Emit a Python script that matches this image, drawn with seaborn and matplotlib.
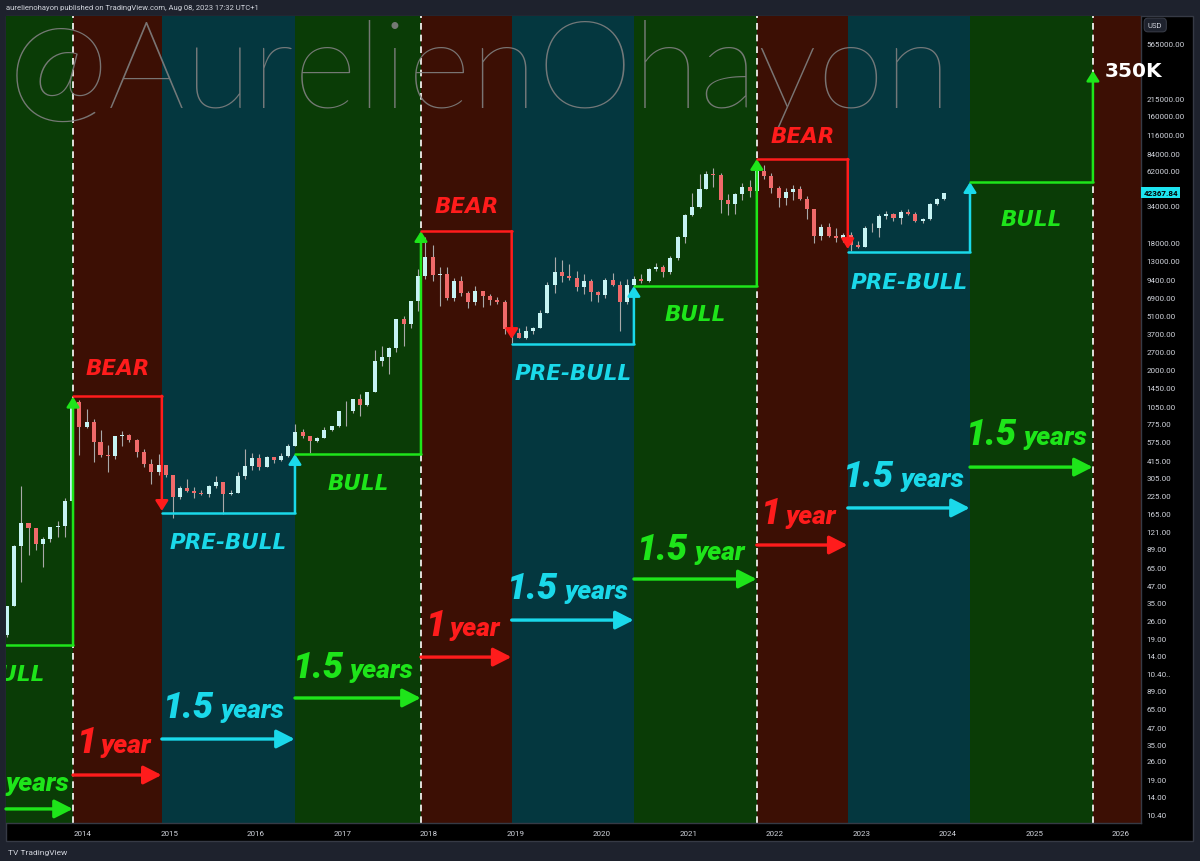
import numpy as np
import pandas as pd
import matplotlib.pyplot as plt
import matplotlib.dates as mdates
from matplotlib.patches import Rectangle
from matplotlib.transforms import blended_transform_factory
import seaborn as sns

# BTC/USD monthly candles, Feb 2013 - Dec 2023
months = pd.date_range("2013-02-01", "2023-12-01", freq="MS")
opens = [20, 33, 93, 139, 128, 97, 106, 130, 133, 205, 1130,
         730, 800, 570, 450, 445, 627, 640, 585, 480, 386, 338, 378,
         320, 217, 254, 244, 236, 230, 263, 284, 230, 236, 313, 377,
         430, 369, 437, 416, 448, 530, 673, 624, 574, 609, 700, 742,
         963, 970, 1190, 1080, 1350, 2300, 2480, 2870, 4740, 4340, 6460, 10000,
         13900, 10200, 10300, 6900, 9250, 7500, 6400, 7730, 7030, 6630, 6340, 4020,
         3740, 3450, 3850, 4100, 5320, 8570, 10800, 10080, 9600, 8300, 9150, 7550,
         7190, 9350, 8550, 6420, 8630, 9450, 9140, 11350, 11650, 10780, 13800, 19700,
         28950, 33100, 45200, 58800, 57700, 37300, 35000, 41500, 47100, 43800, 61300, 57000,
         46200, 38500, 43200, 45500, 37700, 31800, 19900, 23300, 20050, 19430, 20500, 17170,
         16550, 23140, 23150, 28480, 29250, 27220, 30480, 29230, 25940, 26970, 34650, 37720]
highs = [33, 95, 266, 140, 129, 110, 130, 145, 215, 1160, 1170,
         1000, 840, 700, 540, 630, 680, 650, 600, 500, 420, 460, 380,
         320, 265, 300, 260, 248, 268, 315, 285, 245, 335, 500, 465,
         460, 445, 440, 465, 550, 780, 705, 630, 615, 740, 750, 975,
         1150, 1200, 1300, 1350, 2790, 3000, 2920, 4750, 5000, 6470, 11400, 19700,
         17200, 11800, 11700, 9750, 9950, 7780, 8500, 7760, 7400, 7000, 6600, 4300,
         4100, 4200, 4150, 5600, 9000, 13900, 13200, 12300, 10950, 10400, 9500, 7750,
         9600, 10500, 9200, 9450, 10050, 10400, 11450, 12470, 12100, 14100, 19900, 29300,
         41950, 58350, 61800, 64850, 59500, 41300, 42400, 50500, 52900, 67000, 69000, 59100,
         47900, 45800, 48200, 47400, 40000, 31900, 24600, 25200, 22800, 20980, 21450, 18400,
         23950, 25250, 29200, 31000, 29850, 31400, 31800, 30200, 27500, 35200, 38400, 42400]
lows = [19.5, 33, 50, 80, 88, 65, 100, 110, 110, 200, 450,
        720, 400, 440, 340, 420, 530, 565, 440, 370, 275, 320, 310,
        152, 212, 240, 215, 225, 217, 254, 162, 225, 235, 300, 350,
        350, 365, 395, 410, 440, 525, 605, 470, 570, 605, 680, 740,
        750, 935, 890, 1060, 1340, 2100, 1830, 2670, 2970, 4110, 5500, 9500,
        9200, 6000, 6600, 6450, 7100, 5750, 6100, 5900, 6100, 6200, 3650, 3150,
        3400, 3370, 3700, 4080, 5300, 7450, 9100, 9400, 7700, 7300, 6500, 6430,
        6850, 8400, 3850, 6150, 8100, 8900, 8980, 10950, 9850, 10400, 13200, 17600,
        28100, 32400, 45000, 47000, 30000, 28800, 29300, 37300, 39600, 43300, 53300, 42000,
        32900, 34300, 37200, 37600, 26700, 17600, 18800, 19600, 18150, 18200, 15480, 16300,
        16500, 21400, 19550, 26950, 25800, 24800, 28850, 25300, 24900, 26550, 34100, 37600]
closes = [33, 93, 139, 128, 97, 106, 130, 133, 205, 1130, 730,
          800, 570, 450, 445, 627, 640, 585, 480, 386, 338, 378, 320,
          217, 254, 244, 236, 230, 263, 284, 230, 236, 313, 377, 430,
          369, 437, 416, 448, 530, 673, 624, 574, 609, 700, 742, 963,
          970, 1190, 1080, 1350, 2300, 2480, 2870, 4740, 4340, 6460, 10000, 13900,
          10200, 10300, 6900, 9250, 7500, 6400, 7730, 7030, 6630, 6340, 4020, 3740,
          3450, 3850, 4100, 5320, 8570, 10800, 10080, 9600, 8300, 9150, 7550, 7190,
          9350, 8550, 6420, 8630, 9450, 9140, 11350, 11650, 10780, 13800, 19700, 28950,
          33100, 45200, 58800, 57700, 37300, 35000, 41500, 47100, 43800, 61300, 57000, 46200,
          38500, 43200, 45500, 37700, 31800, 19900, 23300, 20050, 19430, 20500, 17170, 16550,
          23140, 23150, 28480, 29250, 27220, 30480, 29230, 25940, 26970, 34650, 37720, 42367.84]
last_price = 42367.84

# market cycle phases
phase_names = ["BULL", "BEAR", "PRE-BULL", "BULL", "BEAR", "PRE-BULL",
               "BULL", "BEAR", "PRE-BULL", "BULL"]
phase_bounds = ["2012-07-08", "2013-11-20", "2014-11-30", "2016-06-14", "2017-11-28",
                "2018-12-16", "2020-05-15", "2021-10-16", "2022-11-04", "2024-04-03",
                "2025-09-04"]
level_from = [16.9, 1260, 166, 460, 21800, 3090, 8430, 75900, 15200, 50900]
level_to = [1240, 172, 460, 21800, 3370, 8430, 75900, 16000, 50900, 350000]
name_y = [9.2, 1837, 90.4, 251, 30300, 1687, 4680, 101900, 8140, 24200]
dur_num = ["1.5", "1", "1.5", "1.5", "1", "1.5", "1.5", "1", "1.5", "1.5"]
dur_unit = ["years", "year", "years", "years", "year", "years", "year", "year", "years", "years"]
dur_text_y = [1.37, 2.65, 4.85, 9.70, 20.1, 38.1, 74.8, 139, 264, 547]
dur_arrow_y = [0.99, 1.78, 3.32, 6.75, 13.7, 26, 52.9, 95.3, 181, 367]
target_label = "350K"
target_y = 319000

# price scale labels (as shown on the right axis)
price_ticks = [565000, 215000, 160000, 116000, 84000, 62000, 34000, 18000, 13000, 9400,
               6900, 5100, 3700, 2700, 2000, 1450, 1050, 775, 575, 415, 305, 225, 165,
               121, 89, 65, 47, 35, 26, 19, 14, 10.4]
price_labels = [f"{v:.2f}" for v in price_ticks]
price_labels[-1] = "10.40.."
extra_ticks = [7.75, 5.67, 4.08, 3.04, 2.27, 1.66, 1.22, 0.906]
extra_labels = ["89.00", "65.00", "47.00", "35.00", "26.00", "19.00", "14.00", "10.40"]

GREEN, RED, CYAN = "#1ee51a", "#ff1c1c", "#1ad9ea"
kind_color = {"BULL": GREEN, "BEAR": RED, "PRE-BULL": CYAN}
kind_band = {"BULL": "#0a3c06", "BEAR": "#3c0f04", "PRE-BULL": "#04373f"}

sns.set_theme(style="dark")
plt.rcParams["font.family"] = ["Roboto", "DejaVu Sans"]

fig = plt.figure(figsize=(12, 8.62), dpi=100, facecolor="#1e222d")
W, H = 1200, 862
fig.add_artist(Rectangle((6 / W, 1 - 842 / H), (1193 - 6) / W, (842 - 17) / H,
                         transform=fig.transFigure, facecolor="black",
                         edgecolor="#363a45", lw=1, zorder=-5))
ax = fig.add_axes([6 / W, 1 - 824 / H, (1141 - 6) / W, (824 - 17) / H])
ax.set_facecolor("black")

df = pd.DataFrame({"date": months, "open": opens, "high": highs, "low": lows, "close": closes})
df["x"] = mdates.date2num(df["date"]) + 15
df["up"] = df["close"] >= df["open"]

bounds = mdates.date2num(pd.to_datetime(phase_bounds))
xmin = mdates.date2num(pd.Timestamp("2013-02-10"))
xmax = mdates.date2num(pd.Timestamp("2026-03-26"))

# background bands
for i, name in enumerate(phase_names):
    ax.axvspan(bounds[i], bounds[i + 1], color=kind_band[name], lw=0, zorder=0)
ax.axvspan(bounds[-1], xmax + 100, color=kind_band["BEAR"], lw=0, zorder=0)

# dashed separators at cycle tops
for i, name in enumerate(phase_names):
    if name == "BULL":
        ax.axvline(bounds[i + 1], color="white", lw=1.2, ls=(0, (4, 3)), zorder=1)

# watermark
ax.text(0.0015, 0.887, "@AurelienOhayon", transform=ax.transAxes, fontsize=88,
        family="Lato", fontweight=100, color="#808080", alpha=0.9,
        ha="left", va="baseline", zorder=2)

# candles
up_c, dn_c = "#c6f3f3", "#f06a6a"
ax.vlines(df["x"], df["low"], df["high"], color="#a9a9a9", lw=0.8, zorder=3)
body_lo = np.minimum(df["open"], df["close"])
body_hi = np.maximum(df["open"], df["close"])
ax.bar(df["x"], body_hi - body_lo, bottom=body_lo, width=17,
       color=np.where(df["up"], up_c, dn_c), lw=0, zorder=4)

num_font = dict(family=["Roboto", "DejaVu Sans"], fontweight="black", fontstyle="italic")
name_font = dict(family=["DejaVu Sans"], fontweight="bold", fontstyle="oblique")

for i, name in enumerate(phase_names):
    c = kind_color[name]
    x0, x1 = max(bounds[i], xmin), bounds[i + 1]
    xc = (bounds[i] + bounds[i + 1]) / 2
    # level line then vertical arrow
    sns.lineplot(x=[x0, x1], y=[level_from[i], level_from[i]], color=c, lw=1.8,
                 ax=ax, zorder=5)
    ax.annotate("", xy=(x1, level_to[i]), xytext=(x1, level_from[i]),
                arrowprops=dict(arrowstyle="-|>,head_length=0.3,head_width=0.19",
                                color=c, lw=1.8, mutation_scale=20,
                                shrinkA=0, shrinkB=0), zorder=5)
    # phase name
    ax.text(xc, name_y[i], name, color=c, fontsize=15.5, ha="center",
            va="baseline", clip_on=True, zorder=6, **name_font)
    # duration arrow
    ax.annotate("", xy=(x1 - 1, dur_arrow_y[i]), xytext=(x0, dur_arrow_y[i]),
                arrowprops=dict(arrowstyle="-|>,head_length=0.55,head_width=0.28",
                                color=c, lw=2.4, mutation_scale=20,
                                shrinkA=0, shrinkB=0), zorder=5)
    if dur_num[i] == "1":
        dn, du = -15.5, -11.9
    elif dur_unit[i] == "year":
        dn, du = -6.0, -0.9
    else:
        dn, du = -11.0, -6.0
    t1 = ax.annotate(dur_num[i], xy=(xc, dur_text_y[i]), xytext=(dn, 0),
                     textcoords="offset points", color=c, fontsize=26,
                     ha="right", va="baseline", zorder=6, **num_font)
    t2 = ax.annotate(dur_unit[i], xy=(xc, dur_text_y[i]), xytext=(du, 0),
                     textcoords="offset points", color=c, fontsize=19,
                     ha="left", va="baseline", zorder=6, **num_font)
    t1.set_clip_on(True)
    t2.set_clip_on(True)

ax.annotate(target_label, xy=(bounds[-1], target_y), xytext=(8.5, 0),
            textcoords="offset points", color="white", fontsize=14.5,
            fontweight="bold", family=["DejaVu Sans"], ha="left",
            va="baseline", annotation_clip=False, zorder=7)

ax.set_yscale("log")
ax.set_ylim(0.776, 901600)
ax.set_xlim(xmin, xmax)
ax.grid(False)

ax.xaxis.set_major_locator(mdates.YearLocator())
ax.xaxis.set_major_formatter(mdates.DateFormatter("%Y"))
ax.yaxis.tick_right()
ax.yaxis.set_minor_locator(plt.NullLocator())
ax.set_yticks(price_ticks + extra_ticks)
ax.set_yticklabels(price_labels + extra_labels)
ax.tick_params(axis="both", colors="#d1d4dc", labelsize=5.8, length=0)
ax.tick_params(axis="y", pad=4)
ax.tick_params(axis="x", pad=5)
for s in ["top", "left"]:
    ax.spines[s].set_visible(False)
for s in ["right", "bottom"]:
    ax.spines[s].set_color("#363a45")
    ax.spines[s].set_linewidth(1)
ax.set_xlabel("")
ax.set_ylabel("")

# last price tag
tr = blended_transform_factory(ax.transAxes, ax.transData)
ax.text(1.002, last_price, f"{last_price:.2f}", transform=tr, fontsize=5.8,
        color="black", fontweight="bold", ha="left", va="center", clip_on=False,
        bbox=dict(boxstyle="square,pad=0.25", fc="#1de4f0", ec="none"), zorder=8)

# USD box, header and footer
fig.text(1148 / W, 1 - 26 / H, "USD", fontsize=5.5, color="#d1d4dc", va="center",
         bbox=dict(boxstyle="round,pad=0.5", fc="#1e222d", ec="#363a45", lw=0.8))
fig.text(6 / W, 1 - 8 / H,
         "aurelienohayon published on TradingView.com, Aug 08, 2023 17:32 UTC+1",
         fontsize=5.5, color="#d1d4dc", va="center")
fig.text(8 / W, 1 - 853 / H, "TV TradingView", fontsize=6, color="#d1d4dc",
         va="center")

fig.savefig("out.png", dpi=100, facecolor=fig.get_facecolor())
